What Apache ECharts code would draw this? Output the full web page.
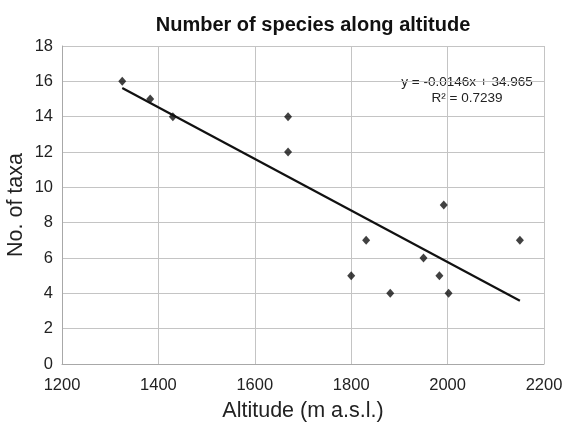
<!DOCTYPE html>
<html>
<head>
<meta charset="utf-8">
<script src="https://cdn.jsdelivr.net/npm/echarts@6/dist/echarts.min.js"></script>
<style>
  html, body { margin: 0; padding: 0; background: #fff; }
  #chart { width: 564px; height: 426px; }
</style>
</head>
<body>
<div id="chart"></div>
<script>
// altitude (m a.s.l.) and number of taxa
var altitude = [1325, 1383, 1430, 1669, 1669, 1800, 1831, 1881, 1950, 1983, 1992, 2002, 2150];
var taxa = [16, 15, 14, 14, 12, 5, 7, 4, 6, 5, 9, 4, 7];
// linear trend as printed on the chart
var slope = -0.0146;
var intercept = 34.965;
var rSquared = 0.7239;
var trendRange = [1325, 2150];

var points = altitude.map(function (a, i) { return [a, taxa[i]]; });
var trend = trendRange.map(function (x) { return [x, slope * x + intercept]; });

var chart = echarts.init(document.getElementById('chart'));
var font = 'Liberation Sans, Arial, sans-serif';
var option = {
    animation: false,
    title: {
        text: 'Number of species along altitude',
        left: 308,
        top: 10,
        textAlign: 'center',
        textStyle: { fontFamily: font, fontSize: 20, fontWeight: 'bold', color: '#111' }
    },
    grid: { left: 62, right: 20, top: 46, bottom: 62, outerBoundsMode: 'none', containLabel: false },
    xAxis: {
        type: 'value',
        min: 1200, max: 2200, interval: 200,
        name: 'Altitude (m a.s.l.)',
        nameLocation: 'middle',
        nameGap: 36,
        nameMoveOverlap: false,
        nameTextStyle: { fontFamily: font, fontSize: 21.5, color: '#222' },
        axisLine: { show: true, lineStyle: { color: '#a8a8a8', width: 1 } },
        axisTick: { show: false },
        axisLabel: {
            fontFamily: font, fontSize: 16.5, color: '#222', margin: 13,
            formatter: function (v) { return String(v); }
        },
        splitLine: { show: true, lineStyle: { color: '#c4c4c4', width: 1 } }
    },
    yAxis: {
        type: 'value',
        min: 0, max: 18, interval: 2,
        name: 'No. of taxa',
        nameLocation: 'middle',
        nameGap: 35,
        nameMoveOverlap: false,
        nameTextStyle: { fontFamily: font, fontSize: 21.5, color: '#222' },
        axisLine: { show: true, lineStyle: { color: '#a8a8a8', width: 1 } },
        axisTick: { show: false },
        axisLabel: { fontFamily: font, fontSize: 16.5, color: '#222', margin: 9 },
        splitLine: { show: true, lineStyle: { color: '#c4c4c4', width: 1 } }
    },
    graphic: [
        {
            type: 'text', x: 467, y: 82,
            style: {
                text: 'y = -0.0146x + 34.965', fontFamily: font, fontSize: 13.5, fill: '#222',
                align: 'center', verticalAlign: 'middle'
            }
        },
        {
            type: 'text', x: 467, y: 98,
            style: {
                text: 'R² = ' + rSquared, fontFamily: font, fontSize: 13.5, fill: '#222',
                align: 'center', verticalAlign: 'middle'
            }
        }
    ],
    series: [
        {
            type: 'line',
            data: trend,
            showSymbol: false,
            symbol: 'none',
            lineStyle: { color: '#111', width: 2.2 },
            z: 2
        },
        {
            type: 'scatter',
            data: points,
            symbol: 'diamond',
            symbolSize: [8, 9],
            itemStyle: { color: '#111' },
            z: 3
        }
    ]
};
chart.setOption(option);
</script>
</body>
</html>
